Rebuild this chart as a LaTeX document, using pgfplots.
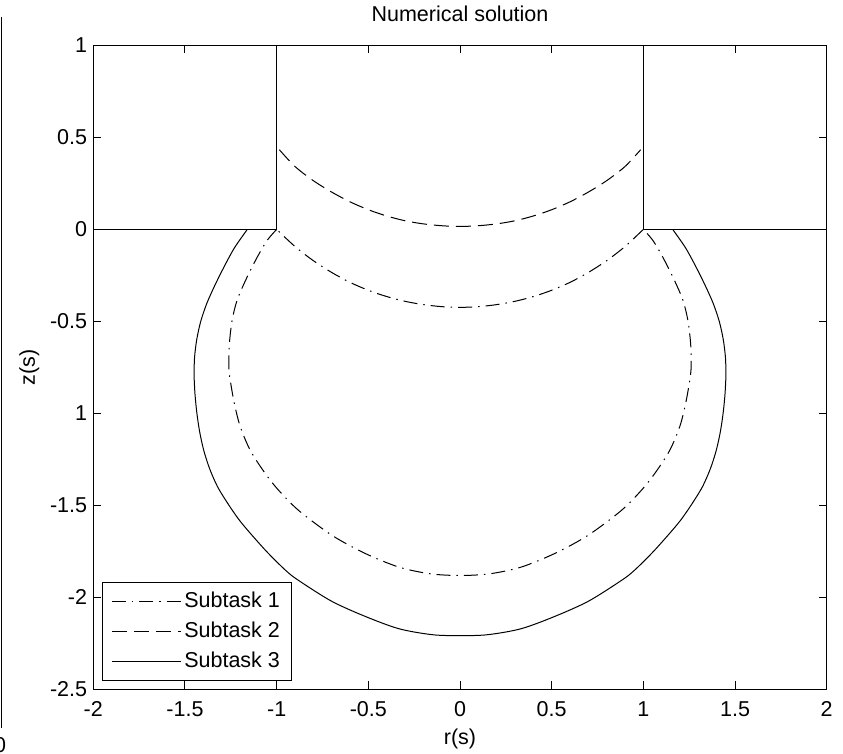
\documentclass[border=0pt]{standalone}
\usepackage{pgfplots}
\pgfplotsset{compat=1.18}
\usepackage{fontspec}
\setmainfont{Liberation Sans}

\begin{document}
\fontsize{21.5}{25}\selectfont
\begin{tikzpicture}
\useasboundingbox (0,0) rectangle (843pt,-754pt);
% frame edge of the neighbouring panel
\draw[line width=1pt] (1pt,-17pt) -- (1pt,-728pt);
\node at (0pt,-745pt) {0};
\begin{axis}[
  at={(460pt,-229.4pt)}, anchor=origin,
  x=183.35pt, y=183.9pt,
  xmin=-2, xmax=2, ymin=-2.5, ymax=1,
  axis line style={line width=1pt},
  tick style={line width=1pt, black},
  tick align=inside, major tick length=8pt,
  xtick={-2,-1.5,-1,-0.5,0,0.5,1,1.5,2},
  xticklabels={-2,-1.5,-1,-0.5,0,0.5,1,1.5,2},
  ytick={-2.5,-2,-1.5,-1,-0.5,0,0.5,1},
  yticklabels={-2.5,-2,-1.5,1,-0.5,0,0.5,1},
  xticklabel style={anchor=base, yshift=-27pt, inner sep=0pt},
  yticklabel style={anchor=east, inner sep=0pt, xshift=-6pt},
  title={Numerical solution},
  title style={at={(axis description cs:0.5,1.0272)}, anchor=base, inner sep=0pt},
  xlabel={r(s)},
  xlabel style={at={(axis description cs:0.5,-0.0855)}, anchor=base, inner sep=0pt},
  ylabel={z(s)},
  ylabel style={at={(axis description cs:-0.0798,0.5)}, anchor=base, inner sep=0pt},
  legend cell align=left,
  legend image code/.code={\draw[#1] (0pt,0pt) -- (69pt,0pt);},
  legend style={at={(0.0116,0.0124)}, anchor=south west, draw=black,
    line width=1pt, inner xsep=9pt, inner ysep=9pt, row sep=9pt,
    nodes={inner xsep=3pt, inner ysep=1pt}},
  every axis plot/.append style={line width=1pt, black},
]
% Subtask 1: lower loop
\addplot[smooth, tension=0.5, dash pattern=on 14pt off 6pt on 1.5pt off 6pt] coordinates {
  (-1,0)
  (-1.052,-0.06) (-1.106,-0.151) (-1.17,-0.278) (-1.216,-0.386)
  (-1.243,-0.495) (-1.258,-0.622) (-1.26,-0.71) (-1.258,-0.785)
  (-1.234,-0.93) (-1.2,-1.068) (-1.143,-1.203) (-1.061,-1.329)
  (-0.988,-1.42) (-0.878,-1.53) (-0.696,-1.665) (-0.513,-1.764)
  (-0.331,-1.837) (-0.16,-1.873) (0,-1.882)
  (0.16,-1.873) (0.331,-1.837) (0.513,-1.764) (0.696,-1.665)
  (0.878,-1.53) (0.988,-1.42) (1.061,-1.329) (1.143,-1.203)
  (1.2,-1.068) (1.234,-0.93) (1.258,-0.785) (1.26,-0.71)
  (1.258,-0.622) (1.243,-0.495) (1.216,-0.386) (1.17,-0.278)
  (1.106,-0.151) (1.052,-0.06) (1,0)
};
\addlegendentry{Subtask 1}
% Subtask 2
\addplot[smooth, tension=0.5, dash pattern=on 15pt off 7pt] coordinates {
  (-0.985,0.433) (-0.9,0.342) (-0.8,0.265) (-0.7,0.203) (-0.6,0.15)
  (-0.5,0.107) (-0.4,0.073) (-0.3,0.047) (-0.2,0.03) (-0.1,0.02) (0,0.016)
  (0.1,0.02) (0.2,0.03) (0.3,0.047) (0.4,0.073) (0.5,0.107) (0.6,0.15)
  (0.7,0.203) (0.8,0.265) (0.9,0.342) (0.985,0.433)
};
\addlegendentry{Subtask 2}
% Subtask 3
\addplot[smooth, tension=0.5, solid] coordinates {
  (-1.16,0) (-1.23,-0.1) (-1.285,-0.2) (-1.335,-0.3) (-1.38,-0.4)
  (-1.414,-0.5) (-1.436,-0.6) (-1.448,-0.7) (-1.45,-0.8) (-1.445,-0.9)
  (-1.435,-1.0) (-1.42,-1.1) (-1.398,-1.2) (-1.366,-1.3) (-1.322,-1.4)
  (-1.26,-1.5) (-1.19,-1.598) (-1.06,-1.746) (-0.95,-1.855) (-0.88,-1.909)
  (-0.7,-2.022) (-0.513,-2.106) (-0.331,-2.172) (-0.15,-2.204) (0,-2.209)
  (0.15,-2.204) (0.331,-2.172) (0.513,-2.106) (0.7,-2.022)
  (0.88,-1.909) (0.95,-1.855) (1.06,-1.746) (1.19,-1.598) (1.26,-1.5)
  (1.322,-1.4) (1.366,-1.3) (1.398,-1.2) (1.42,-1.1) (1.435,-1.0)
  (1.445,-0.9) (1.45,-0.8) (1.448,-0.7) (1.436,-0.6) (1.414,-0.5)
  (1.38,-0.4) (1.335,-0.3) (1.285,-0.2) (1.23,-0.1) (1.16,0)
};
\addlegendentry{Subtask 3}
% Subtask 1: upper arc
\addplot[smooth, tension=0.5, forget plot, dash pattern=on 14pt off 6pt on 1.5pt off 6pt] coordinates {
  (1,0) (0.9,-0.093) (0.8,-0.17) (0.7,-0.234) (0.6,-0.288) (0.5,-0.331)
  (0.4,-0.365) (0.3,-0.391) (0.2,-0.409) (0.1,-0.42) (0,-0.424)
  (-0.1,-0.42) (-0.2,-0.409) (-0.3,-0.391) (-0.4,-0.365) (-0.5,-0.331)
  (-0.6,-0.288) (-0.7,-0.234) (-0.8,-0.17) (-0.9,-0.093) (-1,0)
};
% walls
\addplot[solid, forget plot] coordinates {(-2,0) (-1,0) (-1,1)};
\addplot[solid, forget plot] coordinates {(1,1) (1,0) (2,0)};
\end{axis}
\end{tikzpicture}
\end{document}
